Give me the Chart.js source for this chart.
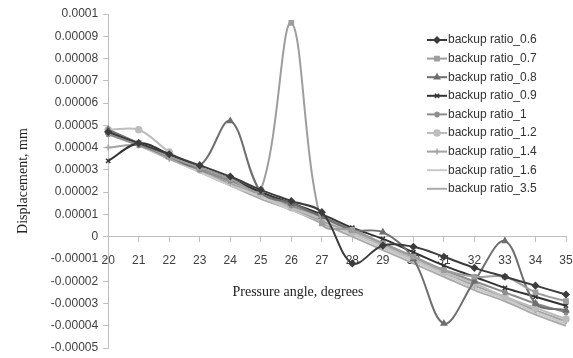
<!DOCTYPE html>
<html>
<head>
<meta charset="utf-8">
<script src="https://cdn.jsdelivr.net/npm/chart.js@4/dist/chart.umd.min.js"></script>
<style>
  html, body { margin: 0; padding: 0; background: #fff; }
  #wrap { width: 573px; height: 358px; position: relative; }
</style>
</head>
<body>
<div id="wrap"><canvas id="disp-chart"></canvas></div>
<script>
var angles = ['20','21','22','23','24','25','26','27','28','29','30','31','32','33','34','35'];

var yTicks = [-0.00005, -0.00004, -0.00003, -0.00002, -0.00001, 0, 0.00001, 0.00002, 0.00003, 0.00004, 0.00005, 0.00006, 0.00007, 0.00008, 0.00009, 0.0001];
var yTickLabels = ['-0.00005','-0.00004','-0.00003','-0.00002','-0.00001','0','0.00001','0.00002','0.00003','0.00004','0.00005','0.00006','0.00007','0.00008','0.00009','0.0001'];

var ratio06 = [4.7e-5, 4.2e-5, 3.7e-5, 3.2e-5, 2.7e-5, 2.1e-5, 1.6e-5, 1.1e-5, -1.2e-5, -0.4e-5, -0.45e-5, -0.9e-5, -1.4e-5, -1.8e-5, -2.2e-5, -2.6e-5];
var ratio07 = [4.7e-5, 4.2e-5, 3.6e-5, 3.1e-5, 2.6e-5, 2.1e-5, 9.6e-5, 0.6e-5, 0.3e-5, -0.3e-5, -0.9e-5, -1.5e-5, -1.8e-5, -1.8e-5, -2.5e-5, -2.9e-5];
var ratio08 = [4.8e-5, 4.2e-5, 3.6e-5, 3.2e-5, 5.2e-5, 2.0e-5, 1.5e-5, 0.9e-5, 0.3e-5, 0.2e-5, -1.0e-5, -3.9e-5, -2.0e-5, -0.2e-5, -3.0e-5, -3.3e-5];
var ratio09 = [3.4e-5, 4.2e-5, 3.7e-5, 3.1e-5, 2.6e-5, 2.0e-5, 1.5e-5, 1.0e-5, 0.4e-5, -0.1e-5, -0.7e-5, -1.3e-5, -1.8e-5, -2.3e-5, -2.7e-5, -3.1e-5];
var ratio1 = [4.6e-5, 4.1e-5, 3.6e-5, 3.0e-5, 2.5e-5, 2.0e-5, 1.4e-5, 0.9e-5, 0.3e-5, -0.3e-5, -0.9e-5, -1.5e-5, -2.0e-5, -2.5e-5, -3.0e-5, -3.4e-5];
var ratio12 = [4.8e-5, 4.8e-5, 3.8e-5, 3.0e-5, 2.5e-5, 1.9e-5, 1.3e-5, 0.8e-5, 0.2e-5, -0.4e-5, -1.0e-5, -1.6e-5, -2.1e-5, -2.7e-5, -3.2e-5, -3.7e-5];
var ratio14 = [4.0e-5, 4.1e-5, 3.5e-5, 3.0e-5, 2.4e-5, 1.9e-5, 1.3e-5, 0.7e-5, 0.2e-5, -0.4e-5, -1.0e-5, -1.6e-5, -2.2e-5, -2.7e-5, -3.3e-5, -3.8e-5];
var ratio16 = [4.7e-5, 4.1e-5, 3.5e-5, 2.9e-5, 2.3e-5, 1.8e-5, 1.2e-5, 0.7e-5, 0.1e-5, -0.5e-5, -1.1e-5, -1.7e-5, -2.3e-5, -2.8e-5, -3.4e-5, -3.9e-5];
var ratio35 = [4.7e-5, 4.1e-5, 3.5e-5, 2.9e-5, 2.3e-5, 1.7e-5, 1.2e-5, 0.6e-5, 0.0, -0.6e-5, -1.2e-5, -1.8e-5, -2.4e-5, -2.9e-5, -3.5e-5, -4.0e-5];

function series(label, data, color, style) {
  return {
    label: label,
    data: data,
    borderColor: color,
    backgroundColor: color,
    borderWidth: 2,
    pointStyle: style || 'circle',
    pointRadius: style ? 3 : 0,
    pointBorderWidth: 1.5,
    pointHoverRadius: 0,
    tension: 0.35,
    fill: false
  };
}

// legend sits inside the plot, top right, like the original
var legendPlugin = {
  id: 'insideLegend',
  afterDraw: function(chart) {
    var ctx = chart.ctx;
    var x0 = 427, y0 = 40, step = 18.6;
    ctx.save();
    chart.data.datasets.forEach(function(ds, i) {
      var y = y0 + i * step;
      ctx.strokeStyle = ds.borderColor;
      ctx.lineWidth = 2;
      ctx.beginPath();
      ctx.moveTo(x0, y);
      ctx.lineTo(x0 + 20, y);
      ctx.stroke();
      if (ds.pointRadius > 0 && Chart.helpers && Chart.helpers.drawPoint) {
        ctx.fillStyle = ds.backgroundColor;
        ctx.lineWidth = 1.5;
        Chart.helpers.drawPoint(ctx, { pointStyle: ds.pointStyle, radius: 3, borderWidth: 1.5, rotation: 0 }, x0 + 10, y);
      }
      ctx.fillStyle = '#333';
      ctx.font = '12px "Liberation Sans", Arial, sans-serif';
      ctx.textBaseline = 'middle';
      ctx.textAlign = 'left';
      ctx.fillText(ds.label, x0 + 21, y);
    });
    ctx.font = '14px "Liberation Serif", "Times New Roman", serif';
    ctx.fillStyle = '#222';
    ctx.textAlign = 'center';
    ctx.fillText('Pressure angle, degrees', 298, 292);
    ctx.restore();
  }
};

var ctx = document.getElementById('disp-chart').getContext('2d');
var dispChart = new Chart(ctx, {
  type: 'line',
  data: {
    labels: angles,
    datasets: [
      series('backup ratio_0.6', ratio06, '#3c3c3c', 'rectRot'),
      series('backup ratio_0.7', ratio07, '#9e9e9e', 'rect'),
      series('backup ratio_0.8', ratio08, '#6e6e6e', 'triangle'),
      series('backup ratio_0.9', ratio09, '#333333', 'crossRot'),
      series('backup ratio_1', ratio1, '#8c8c8c', 'star'),
      series('backup ratio_1.2', ratio12, '#bdbdbd', 'circle'),
      series('backup ratio_1.4', ratio14, '#a3a3a3', 'cross'),
      series('backup ratio_1.6', ratio16, '#c9c9c9', null),
      series('backup ratio_3.5', ratio35, '#aaaaaa', null)
    ]
  },
  options: {
    responsive: true,
    maintainAspectRatio: false,
    animation: false,
    layout: { padding: { top: 14, right: 7, bottom: 10, left: 15 } },
    plugins: {
      legend: { display: false },
      tooltip: { enabled: false }
    },
    scales: {
      x: {
        type: 'category',
        position: { y: 0 },
        offset: false,
        border: { color: '#bfbfbf', width: 1 },
        grid: { drawOnChartArea: false, tickLength: 5, color: '#bfbfbf' },
        afterFit: function(scale) {
          scale.paddingLeft = 0;
          scale.paddingRight = 0;
        },
        ticks: {
          color: '#404040',
          padding: 12,
          maxRotation: 0,
          autoSkip: false,
          font: { family: '"Liberation Sans", Arial, sans-serif', size: 12 }
        }
      },
      y: {
        min: -0.00005,
        max: 0.0001,
        border: { color: '#bfbfbf', width: 1 },
        grid: { drawOnChartArea: false, tickLength: 5, color: '#bfbfbf' },
        afterBuildTicks: function(scale) {
          scale.ticks = yTicks.map(function(v) { return { value: v }; });
        },
        afterFit: function(scale) {
          scale.paddingTop = 0;
          scale.paddingBottom = 0;
        },
        ticks: {
          color: '#404040',
          padding: 5,
          font: { family: '"Liberation Sans", Arial, sans-serif', size: 12 },
          callback: function(value, index) { return yTickLabels[index]; }
        },
        title: {
          display: true,
          text: 'Displacement, mm',
          color: '#222',
          padding: { top: 0, bottom: 14 },
          font: { family: '"Liberation Serif", "Times New Roman", serif', size: 14 }
        }
      }
    }
  },
  plugins: [legendPlugin]
});
</script>
</body>
</html>
